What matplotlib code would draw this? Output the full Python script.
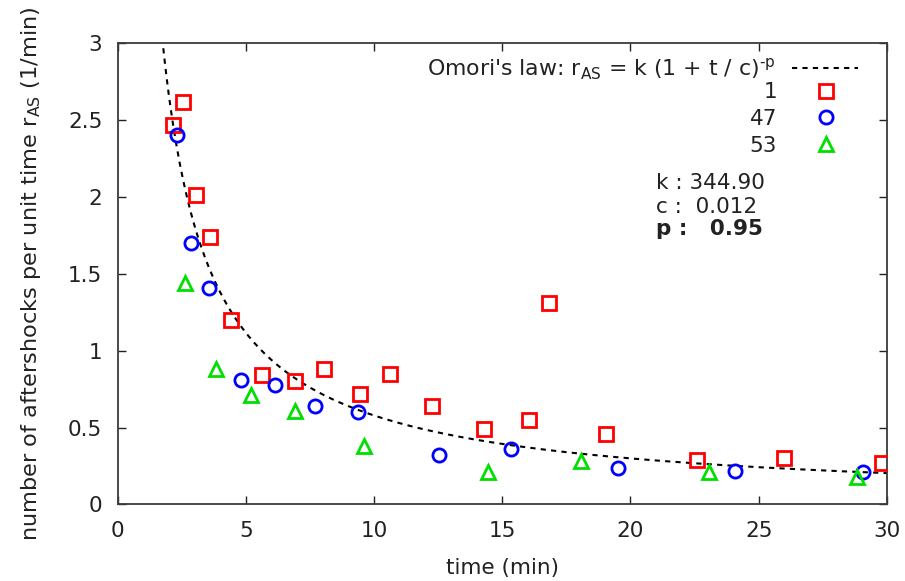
import numpy as np
import matplotlib
matplotlib.use("Agg")
import matplotlib.pyplot as plt
from matplotlib.lines import Line2D

plt.rcParams['font.family'] = ['DejaVu Sans']
plt.rcParams['mathtext.default'] = 'regular'

# Omori's law fit parameters
k_fit = 344.90
c_fit = 0.012
p_fit = 0.95

# Aftershock rates for the three mainshocks (time in min, rate in 1/min)
t_1 = [2.14, 2.53, 3.04, 3.60, 4.44, 5.63, 6.91, 8.04, 9.44, 10.63, 12.25,
       14.27, 16.06, 16.84, 19.05, 22.59, 26.0, 29.79]
r_1 = [2.47, 2.62, 2.01, 1.74, 1.20, 0.84, 0.80, 0.88, 0.72, 0.85, 0.64,
       0.49, 0.55, 1.31, 0.46, 0.29, 0.30, 0.27]

t_47 = [2.30, 2.88, 3.57, 4.83, 6.13, 7.69, 9.37, 12.53, 15.35, 19.50, 24.09, 29.05]
r_47 = [2.40, 1.70, 1.41, 0.81, 0.78, 0.64, 0.60, 0.32, 0.36, 0.24, 0.22, 0.21]

t_53 = [2.62, 3.82, 5.22, 6.91, 9.60, 14.44, 18.08, 23.05, 28.83]
r_53 = [1.44, 0.88, 0.71, 0.61, 0.38, 0.21, 0.28, 0.21, 0.18]

series_labels = ['1', '47', '53']
x_ticks = [0, 5, 10, 15, 20, 25, 30]
y_ticks = [0, 0.5, 1, 1.5, 2, 2.5, 3]
y_tick_labels = ['0', '0.5', '1', '1.5', '2', '2.5', '3']

RED = '#ff0000'
BLUE = '#0000ff'
GREEN = '#00e000'
TXT = '#222222'
FS = 15.5

fig = plt.figure(figsize=(9.05, 5.81), dpi=100)
ax = fig.add_axes([0.130, 0.1317, 0.850, 0.7941])

# fitted curve
t_fit = np.linspace(1.78, 30, 400)
r_fit = k_fit * (1 + t_fit / c_fit) ** (-p_fit)
ax.plot(t_fit, r_fit, color='black', lw=1.5, dashes=(2.5, 2.5), zorder=2)

mk = dict(linestyle='none', markerfacecolor='none', markersize=9.5, markeredgewidth=2.0)
ax.plot(t_1, r_1, marker='s', markeredgecolor=RED, zorder=3, **mk)
ax.plot(t_47, r_47, marker='o', markeredgecolor=BLUE, zorder=3, **mk)
ax.plot(t_53, r_53, marker='^', markeredgecolor=GREEN, zorder=3, **mk)

ax.set_xlim(0, 30)
ax.set_ylim(0, 3)
ax.set_xticks(x_ticks)
ax.set_xticklabels([str(v) for v in x_ticks])
ax.set_yticks(y_ticks)
ax.set_yticklabels(y_tick_labels)
ax.tick_params(direction='in', length=6, width=1.0, top=True, right=True,
               labelsize=FS, colors=TXT)
ax.tick_params(axis='x', pad=12)
ax.tick_params(axis='y', pad=11)
for s in ax.spines.values():
    s.set_color('#3a3a3a')
    s.set_linewidth(1.3)

ax.set_xlabel('time (min)', fontsize=FS, color=TXT, labelpad=12)
ax.set_ylabel('number of aftershocks per unit time r$_{AS}$ (1/min)', fontsize=16.2,
              color=TXT, labelpad=18)

# key: fit line on top, then the three series
key_kw = dict(frameon=False, markerfirst=False, handlelength=3.0,
              handletextpad=0.75, borderpad=0.0, borderaxespad=0.0, loc='center right')
leg_fit = ax.legend([Line2D([], [], color='black', lw=1.5, dashes=(2.5, 2.5))],
                    ["Omori's law: r$_{AS}$ = k (1 + t / c)$^{\\text{-p}}$"],
                    bbox_to_anchor=(0.9623, 0.944), fontsize=15.8, **key_kw)
ax.add_artist(leg_fit)
handles = [
    Line2D([], [], marker='s', markeredgecolor=RED, **mk),
    Line2D([], [], marker='o', markeredgecolor=BLUE, **mk),
    Line2D([], [], marker='^', markeredgecolor=GREEN, **mk),
]
leg = ax.legend(handles, series_labels, bbox_to_anchor=(0.9623, 0.8355),
                fontsize=FS, labelspacing=0.32, **key_kw)
for lg in (leg_fit, leg):
    for t in lg.get_texts():
        t.set_color(TXT)

ax.text(21.0, 2.09, 'k : 344.90', fontsize=FS, va='center', ha='left', color=TXT)
ax.text(21.0, 1.935, 'c :  0.012', fontsize=FS, va='center', ha='left', color=TXT)
ax.text(21.0, 1.79, 'p :   0.95', fontsize=FS, va='center', ha='left', color=TXT,
        fontweight='bold')

fig.savefig('out.png', dpi=100)
